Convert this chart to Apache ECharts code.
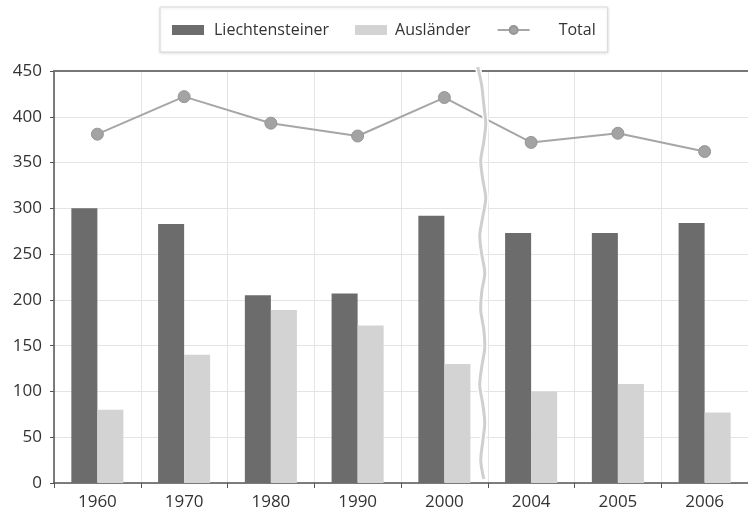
<!DOCTYPE html>
<html><head><meta charset="utf-8">
<script src="https://cdn.jsdelivr.net/npm/echarts@6/dist/echarts.min.js"></script>
<style>html,body{margin:0;padding:0;background:#fff}#c{width:748px;height:514px}</style>
</head><body><div id="c"></div>
<script>
const years = ['1960','1970','1980','1990','2000','2004','2005','2006'];
const liechtensteiner = [300, 283, 205, 207, 292, 273, 273, 284];
const auslaender = [80, 140, 189, 172, 130, 100, 108, 77];
const total = [381, 422, 393, 379, 421, 372, 382, 362];
const yTicks = {min: 0, max: 450, interval: 50};

const chart = echarts.init(document.getElementById('c'));
const font = 'Open Sans';
chart.setOption({
  animation: false,
  textStyle: {fontFamily: font},
  legend: {
    left: 160, top: 7,
    padding: [15, 12, 14, 12],
    borderColor: '#d8d8d8', borderWidth: 1,
    shadowColor: 'rgba(0,0,0,0.12)', shadowBlur: 3, shadowOffsetY: 1,
    backgroundColor: '#fff',
    itemWidth: 32, itemHeight: 10, itemGap: 26,
    textStyle: {fontFamily: font, fontSize: 16, color: '#333', padding: [0, 0, 0, 5]},
    data: [
      {name: 'Liechtensteiner', icon: 'rect'},
      {name: 'Ausländer', icon: 'rect', textStyle: {padding: [0, 34, 0, 3]}},
      {name: 'Total', textStyle: {padding: [0, 0, 0, 24]}}
    ]
  },
  grid: {left: 54, right: -5, top: 71, bottom: 31},
  xAxis: [{
    type: 'category', data: years,
    axisLine: {lineStyle: {color: '#555', width: 1.5}},
    axisTick: {show: true, length: 5, lineStyle: {color: '#555'}},
    axisLabel: {fontFamily: font, fontSize: 17, color: '#333', margin: 11},
    splitLine: {show: true, lineStyle: {color: '#e4e4e4'}}
  }, {
    type: 'category', data: years, position: 'top',
    axisLine: {show: true, lineStyle: {color: '#777', width: 2}},
    axisTick: {show: false}, axisLabel: {show: false}, splitLine: {show: false}
  }],
  yAxis: {
    type: 'value', min: yTicks.min, max: yTicks.max, interval: yTicks.interval,
    axisLine: {show: true, lineStyle: {color: '#555', width: 1.5}},
    axisTick: {show: true, length: 4, lineStyle: {color: '#555'}},
    axisLabel: {fontFamily: font, fontSize: 17, color: '#333', margin: 12},
    splitLine: {show: true, lineStyle: {color: '#e4e4e4'}}
  },
  series: [
    {name: 'Liechtensteiner', type: 'bar', data: liechtensteiner, barGap: '0%', barCategoryGap: '40%',
     itemStyle: {color: '#6c6c6c'}},
    {name: 'Ausländer', type: 'bar', data: auslaender,
     itemStyle: {color: '#d3d3d3'}},
    {name: 'Total', type: 'line', data: total, symbol: 'circle', symbolSize: 12,
     lineStyle: {color: '#a6a6a6', width: 2},
     itemStyle: {color: '#a3a3a3', borderColor: '#959595', borderWidth: 1}, z: 5}
  ]
});

// axis break marker between 2000 and 2004
const p1 = chart.convertToPixel({xAxisIndex: 0}, '2000');
const p2 = chart.convertToPixel({xAxisIndex: 0}, '2004');
const yTop = chart.convertToPixel({yAxisIndex: 0}, yTicks.max) - 4;
const yBot = chart.convertToPixel({yAxisIndex: 0}, yTicks.min) - 4;
const xm = (p1 + p2) / 2 - 6;
const wig = [-4, 0, 2, 4, 2, -1, 1, 4, 1, -2, 0, 3, 0, -1, 2, 3, 0, -2, 1, 3, 1, -1, 2];
const pts = wig.map((d, i) => [xm + d, yTop + (yBot - yTop) * i / (wig.length - 1)]);
chart.setOption({graphic: [
  {type: 'polyline', shape: {points: pts, smooth: 0.3}, style: {stroke: '#fff', lineWidth: 6, fill: null}, z: 10},
  {type: 'polyline', shape: {points: pts, smooth: 0.3}, style: {stroke: '#cfcfcf', lineWidth: 3, fill: null}, z: 11}
]});
</script></body></html>
